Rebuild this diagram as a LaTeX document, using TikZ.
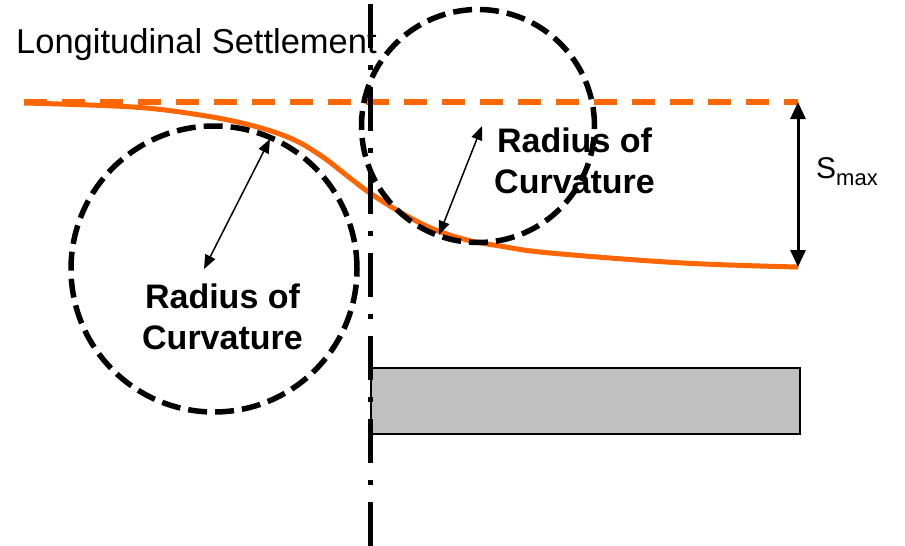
\documentclass[tikz,border=0pt]{standalone}
\usepackage{fontspec}
\setmainfont{Liberation Sans}
\usetikzlibrary{arrows.meta}
\definecolor{settleorange}{RGB}{255,102,0}
\definecolor{tunnelgray}{RGB}{192,192,192}
\tikzset{
  orangedash/.style={draw=settleorange,line width=6pt,dash pattern=on 23pt off 15pt},
  orangecurve/.style={draw=settleorange,line width=5pt},
  circdash/.style={draw=black,line width=5.5pt,dash pattern=on 19pt off 8pt},
  axisline/.style={draw=black,line width=5pt,dash pattern=on 44pt off 17pt on 5pt off 17pt},
  radarrow/.style={draw=black,line width=1.5pt,{Triangle[length=14pt,width=11pt]}-{Triangle[length=14pt,width=11pt]}},
  smaxarrow/.style={draw=black,line width=3pt,{Triangle[length=17pt,width=15pt]}-{Triangle[length=17pt,width=15pt]}},
  radlabel/.style={font=\fontsize{34}{41}\selectfont\bfseries,align=center,inner sep=0pt},
  tunnelbox/.style={draw=black,fill=tunnelgray,line width=1.5pt}
}
\begin{document}
\begin{tikzpicture}[x=1pt,y=-1pt]
\useasboundingbox (0,0) rectangle (905,546);
% title
\node[anchor=base west,inner sep=0pt,font=\fontsize{34.5}{34.5}\selectfont] (title) at (16,53) {Longitudinal Settlement};
% coordinates
\coordinate (dashL) at (24,102);
\coordinate (dashR) at (798,102);
\coordinate (curveEnd) at (798,267);
% dashed original ground line
\draw[orangedash] (dashL) -- (dashR);
% settlement curve
\draw[orangecurve] plot[smooth,tension=0.6] coordinates {(24,103) (133,107) (200,115) (250,125) (290,138) (320,155) (350,178) (370,193) (400,212) (433,229) (467,240) (500,246) (550,253) (683,263) (798,267)};
% tunnel
\node[tunnelbox,minimum width=429pt,minimum height=66pt,anchor=north west,inner sep=0pt] (tunnel) at (370,367) {};
% circles
\node[circdash,circle,minimum size=286pt,inner sep=0pt] (circL) at (214,269) {};
\node[circdash,circle,minimum size=233pt,inner sep=0pt] (circR) at (478,126) {};
% axis
\coordinate (axTop) at (370,4);
\coordinate (axBot) at (370,546);
\draw[axisline] (axTop) -- (axBot);
% radius arrows
\coordinate (rLa) at (270,139);
\coordinate (rLb) at (204,269);
\coordinate (rRa) at (482,126);
\coordinate (rRb) at (439,235);
\draw[radarrow] (rLb) -- (rLa);
\draw[radarrow] (rRb) -- (rRa);
% labels
\node[radlabel] (labL) at (222.5,316.5) {Radius of\\Curvature};
\node[radlabel] (labR) at (574.5,161) {Radius of\\Curvature};
% Smax
\draw[smaxarrow] (dashR) -- (curveEnd);
\node[anchor=base west,inner sep=0pt,font=\fontsize{30}{30}\selectfont] (smax) at (816,178) {S\raisebox{-7pt}{\fontsize{22}{22}\selectfont max}};
\end{tikzpicture}
\end{document}
